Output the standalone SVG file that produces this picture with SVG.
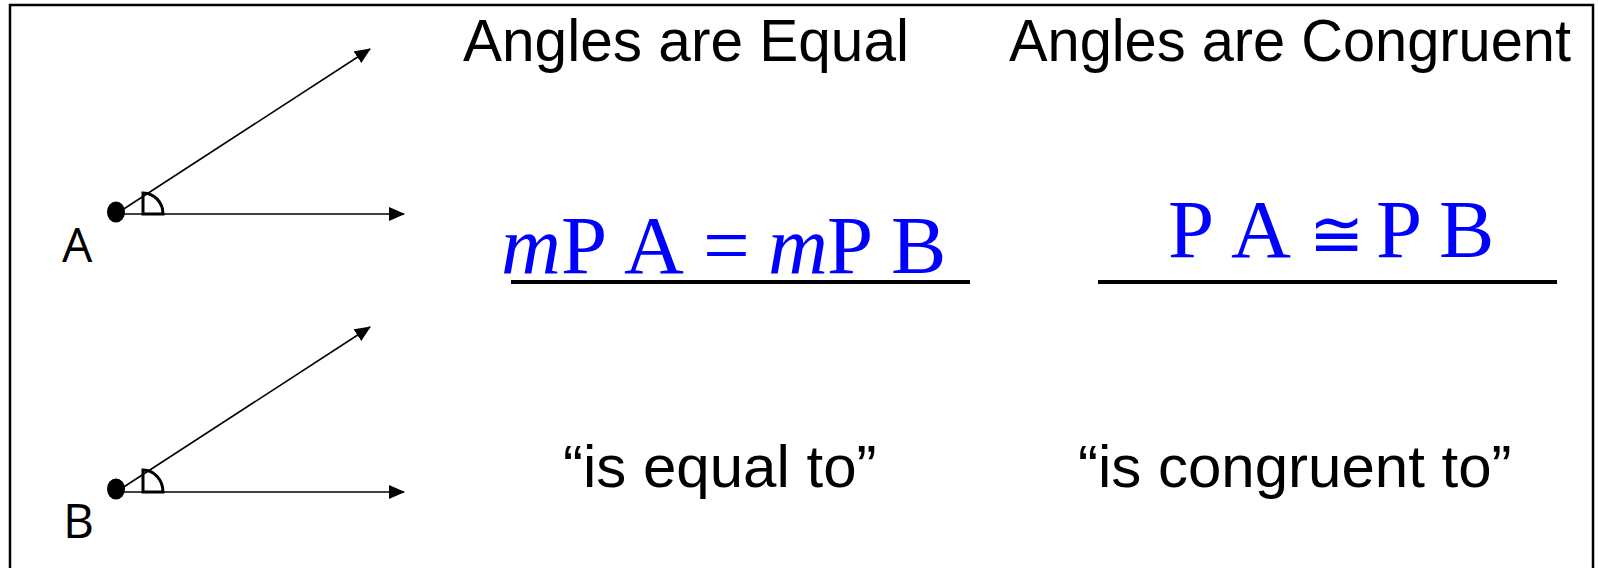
<svg xmlns="http://www.w3.org/2000/svg" width="1598" height="568" viewBox="0 0 1598 568">
<style>
.ray{stroke:#000;stroke-width:1.6;fill:none}
.mark{stroke:#000;stroke-width:3;fill:none}
.sans{font-family:"Liberation Sans",Arial,sans-serif;font-size:60px;fill:#000}
.lbl{font-family:"Open Sans","Noto Sans",sans-serif;font-size:48px;fill:#000}
.eq{font-family:"Liberation Serif","Times New Roman",serif;font-size:83px;fill:#0000ff}
.cong{font-family:"DejaVu Serif",serif;font-size:66px}
.ul{stroke:#000;stroke-width:4}
</style>
<defs>
<marker id="ah" markerWidth="16" markerHeight="14" refX="15" refY="7" orient="auto" markerUnits="userSpaceOnUse">
<path d="M0,0 L16,7 L0,14 Z" fill="#000"/>
</marker>
</defs>
<rect x="10" y="5" width="1583" height="580" fill="#fff" stroke="#000" stroke-width="2.5"/>
<g id="connectors">
<line class="ray" x1="116" y1="214" x2="404" y2="214" marker-end="url(#ah)"/>
<line class="ray" x1="116" y1="214" x2="370" y2="49" marker-end="url(#ah)"/>
<line class="ray" x1="116" y1="492" x2="404" y2="492" marker-end="url(#ah)"/>
<line class="ray" x1="116" y1="492" x2="370" y2="327" marker-end="url(#ah)"/>
</g>
<g id="angleA">
<ellipse cx="116" cy="212" rx="9" ry="10.5" fill="#000"/>
<path class="mark" d="M143,214 L143,193 A20,21 0 0 1 163,214 Z"/>
<text class="lbl" x="62" y="262">A</text>
</g>
<g id="angleB">
<ellipse cx="116" cy="489" rx="9" ry="10.5" fill="#000"/>
<path class="mark" d="M143,492 L143,470 A20,22 0 0 1 163,492 Z"/>
<text class="lbl" x="63" y="538">B</text>
</g>
<g id="titleEqual">
<text class="sans" x="463" y="61" textLength="446" lengthAdjust="spacingAndGlyphs">Angles are Equal</text>
</g>
<g id="titleCongruent">
<text class="sans" x="1009" y="61" textLength="562" lengthAdjust="spacingAndGlyphs">Angles are Congruent</text>
</g>
<g id="equationEqual">
<text class="eq" y="273"><tspan x="501" font-style="italic">m</tspan><tspan x="561">P</tspan> <tspan x="624">A</tspan> <tspan x="703">=</tspan> <tspan x="768" font-style="italic">m</tspan><tspan x="827">P</tspan> <tspan x="891">B</tspan></text>
<line class="ul" x1="511" y1="282" x2="970" y2="282"/>
</g>
<g id="equationCongruent">
<text class="eq" y="257"><tspan x="1168">P</tspan> <tspan x="1231">A</tspan> <tspan x="1309" class="cong">≅</tspan> <tspan x="1376">P</tspan> <tspan x="1439">B</tspan></text>
<line class="ul" x1="1098" y1="282" x2="1557" y2="282"/>
</g>
<g id="phraseEqual">
<text class="sans" x="563" y="487">“is equal to”</text>
</g>
<g id="phraseCongruent">
<text class="sans" x="1078" y="487">“is congruent to”</text>
</g>
</svg>
